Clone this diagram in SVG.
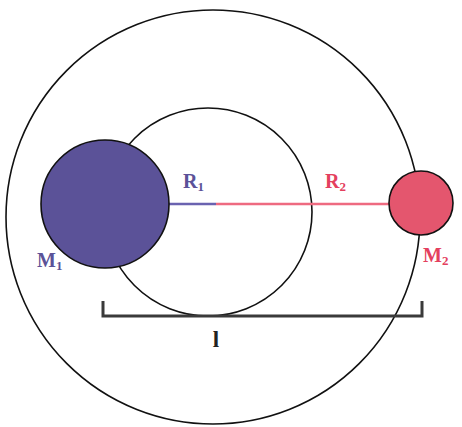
<svg xmlns="http://www.w3.org/2000/svg" width="462" height="427" viewBox="0 0 462 427">
<style>
.orb{fill:none;stroke:#111;stroke-width:1.6}
.lbl{font-family:"Liberation Serif","Times New Roman",serif;font-weight:bold;font-size:20px}
.sub{font-size:13px}
</style>
<rect width="462" height="427" fill="#ffffff"/>
<g id="orbits">
<circle id="outer-orbit" class="orb" cx="213" cy="217" r="207"/>
<circle id="inner-orbit" class="orb" cx="208" cy="212" r="104"/>
</g>
<g id="connectors">
<line x1="169" y1="204" x2="216" y2="204" stroke="#6a62b0" stroke-width="2.6"/>
<line x1="216" y1="204" x2="390" y2="204" stroke="#ee6a80" stroke-width="2.6"/>
<path d="M103 301 V316 H422 V301" fill="none" stroke="#3a3a3a" stroke-width="3"/>
</g>
<g id="M1">
<circle cx="105" cy="204" r="64" fill="#5b5298" stroke="#111" stroke-width="1.6"/>
<text class="lbl" x="37" y="267" fill="#5b5298">M<tspan class="sub" dy="3">1</tspan></text>
</g>
<g id="M2">
<circle cx="421" cy="203" r="32" fill="#e4566e" stroke="#111" stroke-width="1.6"/>
<text class="lbl" x="423" y="262" fill="#e4405e">M<tspan class="sub" dy="3">2</tspan></text>
</g>
<g id="R1">
<text class="lbl" x="183" y="188" fill="#5b5298">R<tspan class="sub" dy="3">1</tspan></text>
</g>
<g id="R2">
<text class="lbl" x="325" y="188" fill="#e4405e">R<tspan class="sub" dy="3">2</tspan></text>
</g>
<g id="l">
<text class="lbl" x="216" y="347" text-anchor="middle" fill="#222" style="font-size:23px">l</text>
</g>
</svg>
